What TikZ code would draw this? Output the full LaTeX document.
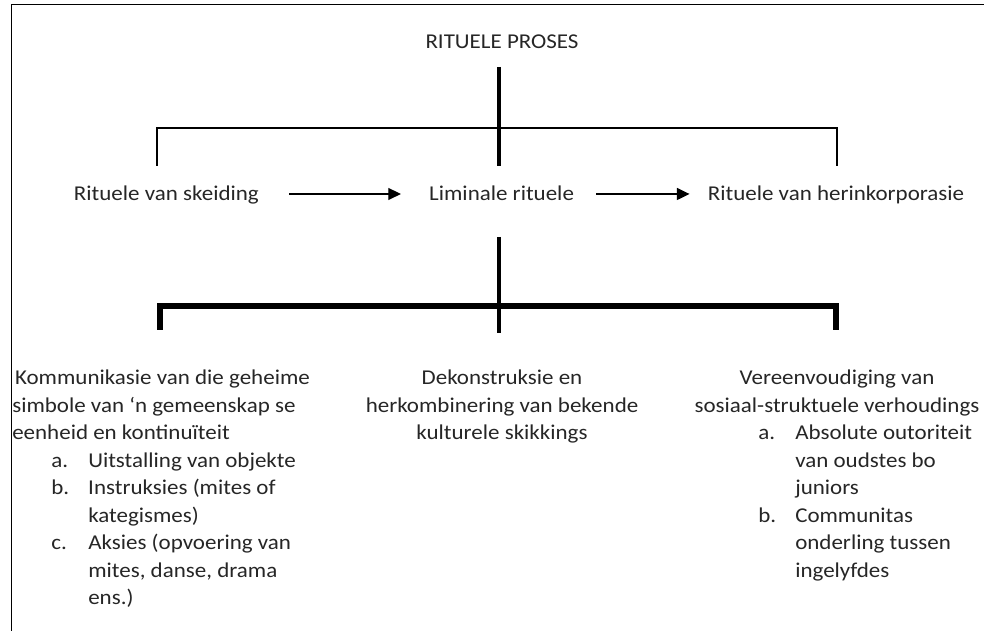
\documentclass[tikz,border=0pt]{standalone}
\usepackage{fontspec}
\setmainfont{Carlito}[FakeStretch=1.09]
\usetikzlibrary{arrows.meta,positioning}
\newcommand\itemlbl[1]{\makebox[0.925cm][l]{#1}}

\begin{document}
\begin{tikzpicture}[
  every node/.style={font=\fontsize{15}{19.56}\selectfont,text=black!85,inner sep=0pt},
  bar/.style={line width=1.5pt},
  thickbar/.style={line width=3.2pt},
  heavybar/.style={line width=4.2pt},
  flow/.style={-{Triangle[length=9pt,width=8.5pt]},line width=1pt},
]
  \useasboundingbox (0,0) rectangle (24.6,15.775);

  % Frame, cut off at the right and at the bottom
  \draw[line width=0.7pt] (0.275,0) -- (0.275,15.65) -- (24.6,15.65);

  % Title
  \node[anchor=base] (title) at (12.55,14.55) {RITUELE PROSES};

  % The three phases
  \node[anchor=base] (sep) at (4.16,10.75) {Rituele van skeiding};
  \node[anchor=base] (lim) at (12.54,10.75) {Liminale rituele};
  \node[anchor=base] (rein) at (20.9,10.75) {Rituele van herinkorporasie};

  \draw[flow,shorten <=0.75cm,shorten >=0.7cm]
    ([yshift=0.175cm]sep.base east) -- ([yshift=0.175cm]lim.base west);
  \draw[flow,shorten <=0.55cm,shorten >=0.45cm]
    ([yshift=0.175cm]lim.base east) -- ([yshift=0.175cm]rein.base west);

  % Upper fork
  \coordinate (ftop) at (12.475,14.1);
  \coordinate (fbot) at (12.475,11.625);
  \coordinate (forkl) at (3.925,12.575);
  \coordinate (forkr) at (20.925,12.575);
  \draw[thickbar] (ftop) -- (fbot);
  \draw[bar] (forkl |- fbot) -- (forkl) -- (forkr) -- (forkr |- fbot);

  % Lower bracket
  \coordinate (ltop) at (12.475,9.85);
  \coordinate (lbot) at (12.475,7.45);
  \coordinate (brl) at (4.0,8.125);
  \coordinate (brr) at (20.91,8.125);
  \coordinate (legend) at (0,7.525);
  \draw[thickbar] (ltop) -- (lbot);
  \draw[heavybar] (brl |- legend) -- (brl) -- (brr) -- (brr |- legend);

  % Left column
  \node[align=left,anchor=north west] (comm) at (0.3,6.525) {%
    \hspace*{2pt}Kommunikasie van die geheime\\
    simbole van ‘n gemeenskap se\\
    eenheid en kontinuïteit\\
    \hspace*{0.975cm}\itemlbl{a.}Uitstalling van objekte\\
    \hspace*{0.975cm}\itemlbl{b.}Instruksies (mites of\\
    \hspace*{1.9cm}kategismes)\\
    \hspace*{0.975cm}\itemlbl{c.}Aksies (opvoering van\\
    \hspace*{1.9cm}mites, danse, drama\\
    \hspace*{1.9cm}ens.)};

  % Middle column
  \node[align=center,anchor=north] (dekon) at (12.55,6.525) {%
    Dekonstruksie en\\
    herkombinering van bekende\\
    kulturele skikkings};

  % Right column
  \node[align=center,anchor=north] (simp) at (20.925,6.525) {%
    Vereenvoudiging van\\
    sosiaal-struktuele verhoudings};
  \node[align=left,anchor=north west] (simplist) at (18.95,5.15) {%
    \itemlbl{a.}Absolute outoriteit\\
    \hspace*{0.925cm}van oudstes bo\\
    \hspace*{0.925cm}juniors\\
    \itemlbl{b.}Communitas\\
    \hspace*{0.925cm}onderling tussen\\
    \hspace*{0.925cm}ingelyfdes};
\end{tikzpicture}
\end{document}
